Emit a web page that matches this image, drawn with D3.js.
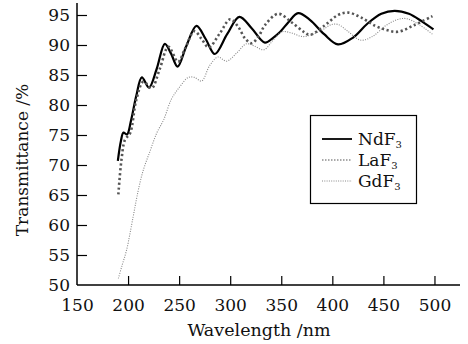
<!DOCTYPE html>
<html>
<head>
<meta charset="utf-8">
<script src="https://cdn.jsdelivr.net/npm/d3@7"></script>
<style>
body { margin: 0; background: #fff; }
text { font-family: "DejaVu Serif", serif; fill: #111; }
</style>
</head>
<body>
<script>
let width = 468;
let height = 344;

// values
let ndWl = [190, 193, 195.5, 199, 203, 208, 213.5, 220.5, 228, 236, 242, 248.5, 257, 267, 276, 285, 297, 309, 321, 334, 342, 349, 357, 366.5, 378, 392, 405.5, 420, 434, 448, 461, 475, 488, 499];
let ndT = [70.7, 74.0, 75.4, 75.1, 77.5, 81.5, 84.6, 82.9, 86.0, 90.2, 88.6, 86.4, 89.8, 93.2, 91.0, 88.5, 91.8, 94.7, 92.8, 90.4, 91.2, 92.2, 93.8, 95.3, 94.2, 91.8, 90.1, 91.2, 93.5, 95.2, 95.7, 95.2, 93.9, 92.6];

let laWl = [190.5, 193.5, 197, 202, 208, 215, 223, 231, 239.5, 249, 256, 265, 272, 279, 290, 300, 308, 314.5, 321, 328, 334, 347, 360, 372, 378, 392, 405.5, 415.5, 428, 442, 453, 464.5, 480, 498];
let laT = [65.1, 70.8, 74.2, 75.3, 80.8, 83.9, 82.8, 86.0, 89.7, 87.2, 89.5, 92.3, 91.0, 89.6, 92.0, 94.3, 93.0, 91.1, 90.3, 91.5, 93.3, 95.2, 93.8, 92.2, 91.7, 93.2, 95.0, 95.4, 94.6, 93.2, 92.5, 92.2, 93.3, 94.8];

let gdWl = [190.5, 194, 198.5, 205, 210, 215, 221.5, 228, 235, 242.5, 250.5, 259, 265, 272, 280, 288, 296.5, 306, 316, 324, 333, 342, 351, 360, 371, 381, 391, 399, 406, 415, 428, 440, 452, 463, 472.5, 485, 498];
let gdT = [51.1, 53.2, 55.8, 61.4, 65.8, 69.2, 72.3, 75.3, 77.6, 81.0, 83.0, 84.6, 84.6, 84.0, 86.6, 88.0, 87.3, 88.6, 90.2, 89.8, 89.2, 90.8, 92.2, 92.0, 91.4, 91.8, 92.6, 93.4, 93.4, 92.3, 90.8, 91.5, 93.2, 94.2, 94.4, 93.4, 91.8];

let seriesNames = ["NdF", "LaF", "GdF"];
let xTicks = [150, 200, 250, 300, 350, 400, 450, 500];
let yTicks = [50, 55, 60, 65, 70, 75, 80, 85, 90, 95];

let svg = d3.select("body")
    .append("svg")
    .attr("width", width)
    .attr("height", height);

let x = d3.scaleLinear().domain([150, 525]).range([77, 460]);
let y = d3.scaleLinear().domain([50, 97]).range([285, 3]);

let styles = [
    { stroke: "#000", width: 2.2, dash: null },
    { stroke: "#555", width: 2.6, dash: "2.2,2.6" },
    { stroke: "#888", width: 1.1, dash: "1,1.4" }
];

let series = [
    ndWl.map(function(w, i) { return [w, ndT[i]]; }),
    laWl.map(function(w, i) { return [w, laT[i]]; }),
    gdWl.map(function(w, i) { return [w, gdT[i]]; })
];

// axes
let xAxis = d3.axisBottom(x).tickValues(xTicks).tickSize(-9).tickPadding(14);
let yAxis = d3.axisLeft(y).tickValues(yTicks).tickSize(-10).tickPadding(7);

let gx = svg.append("g").attr("transform", "translate(0,285)").call(xAxis);
let gy = svg.append("g").attr("transform", "translate(77,0)").call(yAxis);

[gx, gy].forEach(function(g) {
    g.select(".domain").attr("stroke", "#000").attr("stroke-width", 1.5);
    g.selectAll(".tick line").attr("stroke", "#000").attr("stroke-width", 1.2);
    g.selectAll(".tick text").attr("font-family", "DejaVu Serif").attr("font-size", 17).attr("fill", "#111");
});
gx.selectAll(".tick").filter(function(d) { return d == 150; }).select("line").remove();
gy.selectAll(".tick").filter(function(d) { return d == 50; }).select("line").remove();
gx.select(".domain").attr("d", "M77,0H460");
gy.select(".domain").attr("d", "M0,285V3");

svg.append("text")
    .attr("x", 259)
    .attr("y", 336)
    .attr("text-anchor", "middle")
    .attr("font-size", 17.5)
    .text("Wavelength /nm");

svg.append("text")
    .attr("transform", "translate(28,160) rotate(-90)")
    .attr("text-anchor", "middle")
    .attr("font-size", 17)
    .text("Transmittance /%");

// curves
let line = d3.line()
    .x(function(d) { return x(d[0]); })
    .y(function(d) { return y(d[1]); })
    .curve(d3.curveCatmullRom.alpha(0.5));

svg.append("g")
    .selectAll("path")
    .data(series)
    .enter()
    .append("path")
        .attr("d", line)
        .attr("fill", "none")
        .attr("stroke", function(d, i) { return styles[i].stroke; })
        .attr("stroke-width", function(d, i) { return styles[i].width; })
        .attr("stroke-dasharray", function(d, i) { return styles[i].dash; });

// legend
let legend = svg.append("g");
legend.append("rect")
    .attr("x", 310.5)
    .attr("y", 115.5)
    .attr("width", 106)
    .attr("height", 88)
    .attr("fill", "#fff")
    .attr("stroke", "#000")
    .attr("stroke-width", 1.2);

let legendY = [139, 160, 181];
let legendStyles = [
    { stroke: "#000", width: 1.8, dash: null },
    { stroke: "#555", width: 1.2, dash: "1.5,1.5" },
    { stroke: "#888", width: 1, dash: "1,1.3" }
];

seriesNames.forEach(function(name, i) {
    legend.append("line")
        .attr("x1", 322)
        .attr("x2", 352)
        .attr("y1", legendY[i])
        .attr("y2", legendY[i])
        .attr("stroke", legendStyles[i].stroke)
        .attr("stroke-width", legendStyles[i].width)
        .attr("stroke-dasharray", legendStyles[i].dash);
    let t = legend.append("text")
        .attr("x", 358)
        .attr("y", legendY[i] + 6)
        .attr("font-size", 17);
    t.append("tspan").text(name);
    t.append("tspan").attr("font-size", 10).attr("dy", 3).text("3");
});
</script>
</body>
</html>
